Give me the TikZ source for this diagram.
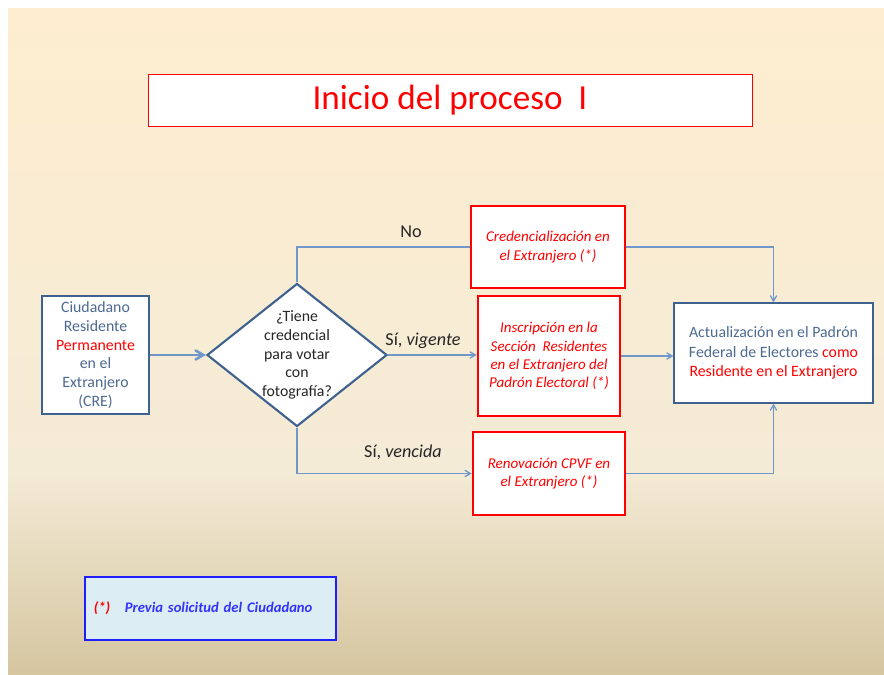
\documentclass[tikz,border=0pt]{standalone}
\usepackage{fontspec}
\setmainfont{Carlito}
\usepackage{tikz}
\usetikzlibrary{shapes,arrows,calc,positioning,shapes.geometric}
\definecolor{bgtop}{HTML}{FEEDD0}
\definecolor{bgmid}{HTML}{F4EBD6}
\definecolor{bgbot}{HTML}{D5C6A0}
\definecolor{linkblue}{HTML}{6F97C9}
\definecolor{boxblue}{HTML}{3F6190}
\definecolor{txtblue}{HTML}{4E6A92}
\definecolor{notefill}{HTML}{DCEDF4}

\begin{document}
\begin{tikzpicture}[x=0.03cm,y=-0.03cm,
  link/.style={draw=linkblue,line width=1.1pt},
  arr/.style={link,->,>=angle 60},
  bluebox/.style={draw=boxblue,fill=white,line width=1pt,align=center,text=txtblue,font=\fontsize{13.5}{16}\selectfont},
  redbox/.style={draw=red,fill=white,line width=2.2pt,align=center,text=red,font=\fontsize{12.8}{15.5}\selectfont\itshape},
  decision/.style={diamond,draw=boxblue,fill=white,line width=1.8pt,inner sep=0pt,minimum width=5.4cm,minimum height=4.29cm},
  lbl/.style={text=black!85,font=\fontsize{15.5}{18}\selectfont}]
\useasboundingbox (0,0) rectangle (884,675);
% background
\fill[white] (0,0) rectangle (884,675);
\shade[top color=bgtop,bottom color=bgmid] (8,9) rectangle (884,470);
\shade[top color=bgmid,bottom color=bgbot] (8,470) rectangle (884,675);

\node[draw=red,fill=white,line width=0.8pt,minimum width=18.12cm,minimum height=1.56cm,text=red,font=\fontsize{30}{36}\selectfont] (title) at (450,100) {Inicio del proceso\ \ I};

\node[bluebox,minimum width=3.21cm,minimum height=3.54cm] (cre) at (95.5,355) {Ciudadano\\Residente\\\textcolor{red}{Permanente}\\en el\\Extranjero\\(CRE)};
\node[decision] (q) at (297,355) {};
\node[align=center,text=black!85,font=\fontsize{13.5}{16}\selectfont] (qtext) at (q) {¿Tiene\\credencial\\para votar\\con\\fotografía?};
\node[redbox,minimum width=4.62cm,minimum height=2.46cm] (cred) at (548,247) {Credencialización en\\el Extranjero (*)};
\node[redbox,minimum width=4.26cm,minimum height=3.6cm] (insc) at (549,356) {Inscripción en la\\Sección\ \ Residentes\\en el Extranjero del\\Padrón Electoral (*)};
\node[redbox,minimum width=4.56cm,minimum height=2.49cm] (renov) at (549,473.5) {Renovación CPVF en\\el Extranjero (*)};
\node[bluebox,minimum width=5.97cm,minimum height=3cm,font=\fontsize{13.5}{16.5}\selectfont] (act) at (773.5,353) {Actualización en el Padrón\\Federal de Electores \textcolor{red}{como}\\\textcolor{red}{Residente en el Extranjero}};

\node[draw={rgb,255:red,30;green,30;blue,255},fill=notefill,line width=2pt,minimum width=7.53cm,minimum height=1.89cm,text width=7.0cm,align=left,font=\fontsize{12.5}{14}\selectfont\bfseries\itshape] (note) at (210.5,608.5) {\textcolor{red}{(*)}\quad\textcolor{blue!80}{Previa solicitud del Ciudadano}};

\draw[arr,line width=2.2pt] (cre) -- (q);
\draw[link] (q.north) |- (cred.west);
\draw[arr] (cred.east) -| (act.north);
\draw[arr] (q.east) -- (q.east -| insc.west);
\draw[arr] (insc.east) -- (insc.east -| act.west);
\draw[arr] (q.south) |- (renov.west);
\draw[arr] (renov.east) -| (act.south);

\node[lbl] (no) at (411,232) {No};
\node[lbl] (vig) at (423,341) {Sí, \textit{vigente}};
\node[lbl] (ven) at (403,452) {Sí, \textit{vencida}};
\end{tikzpicture}
\end{document}
